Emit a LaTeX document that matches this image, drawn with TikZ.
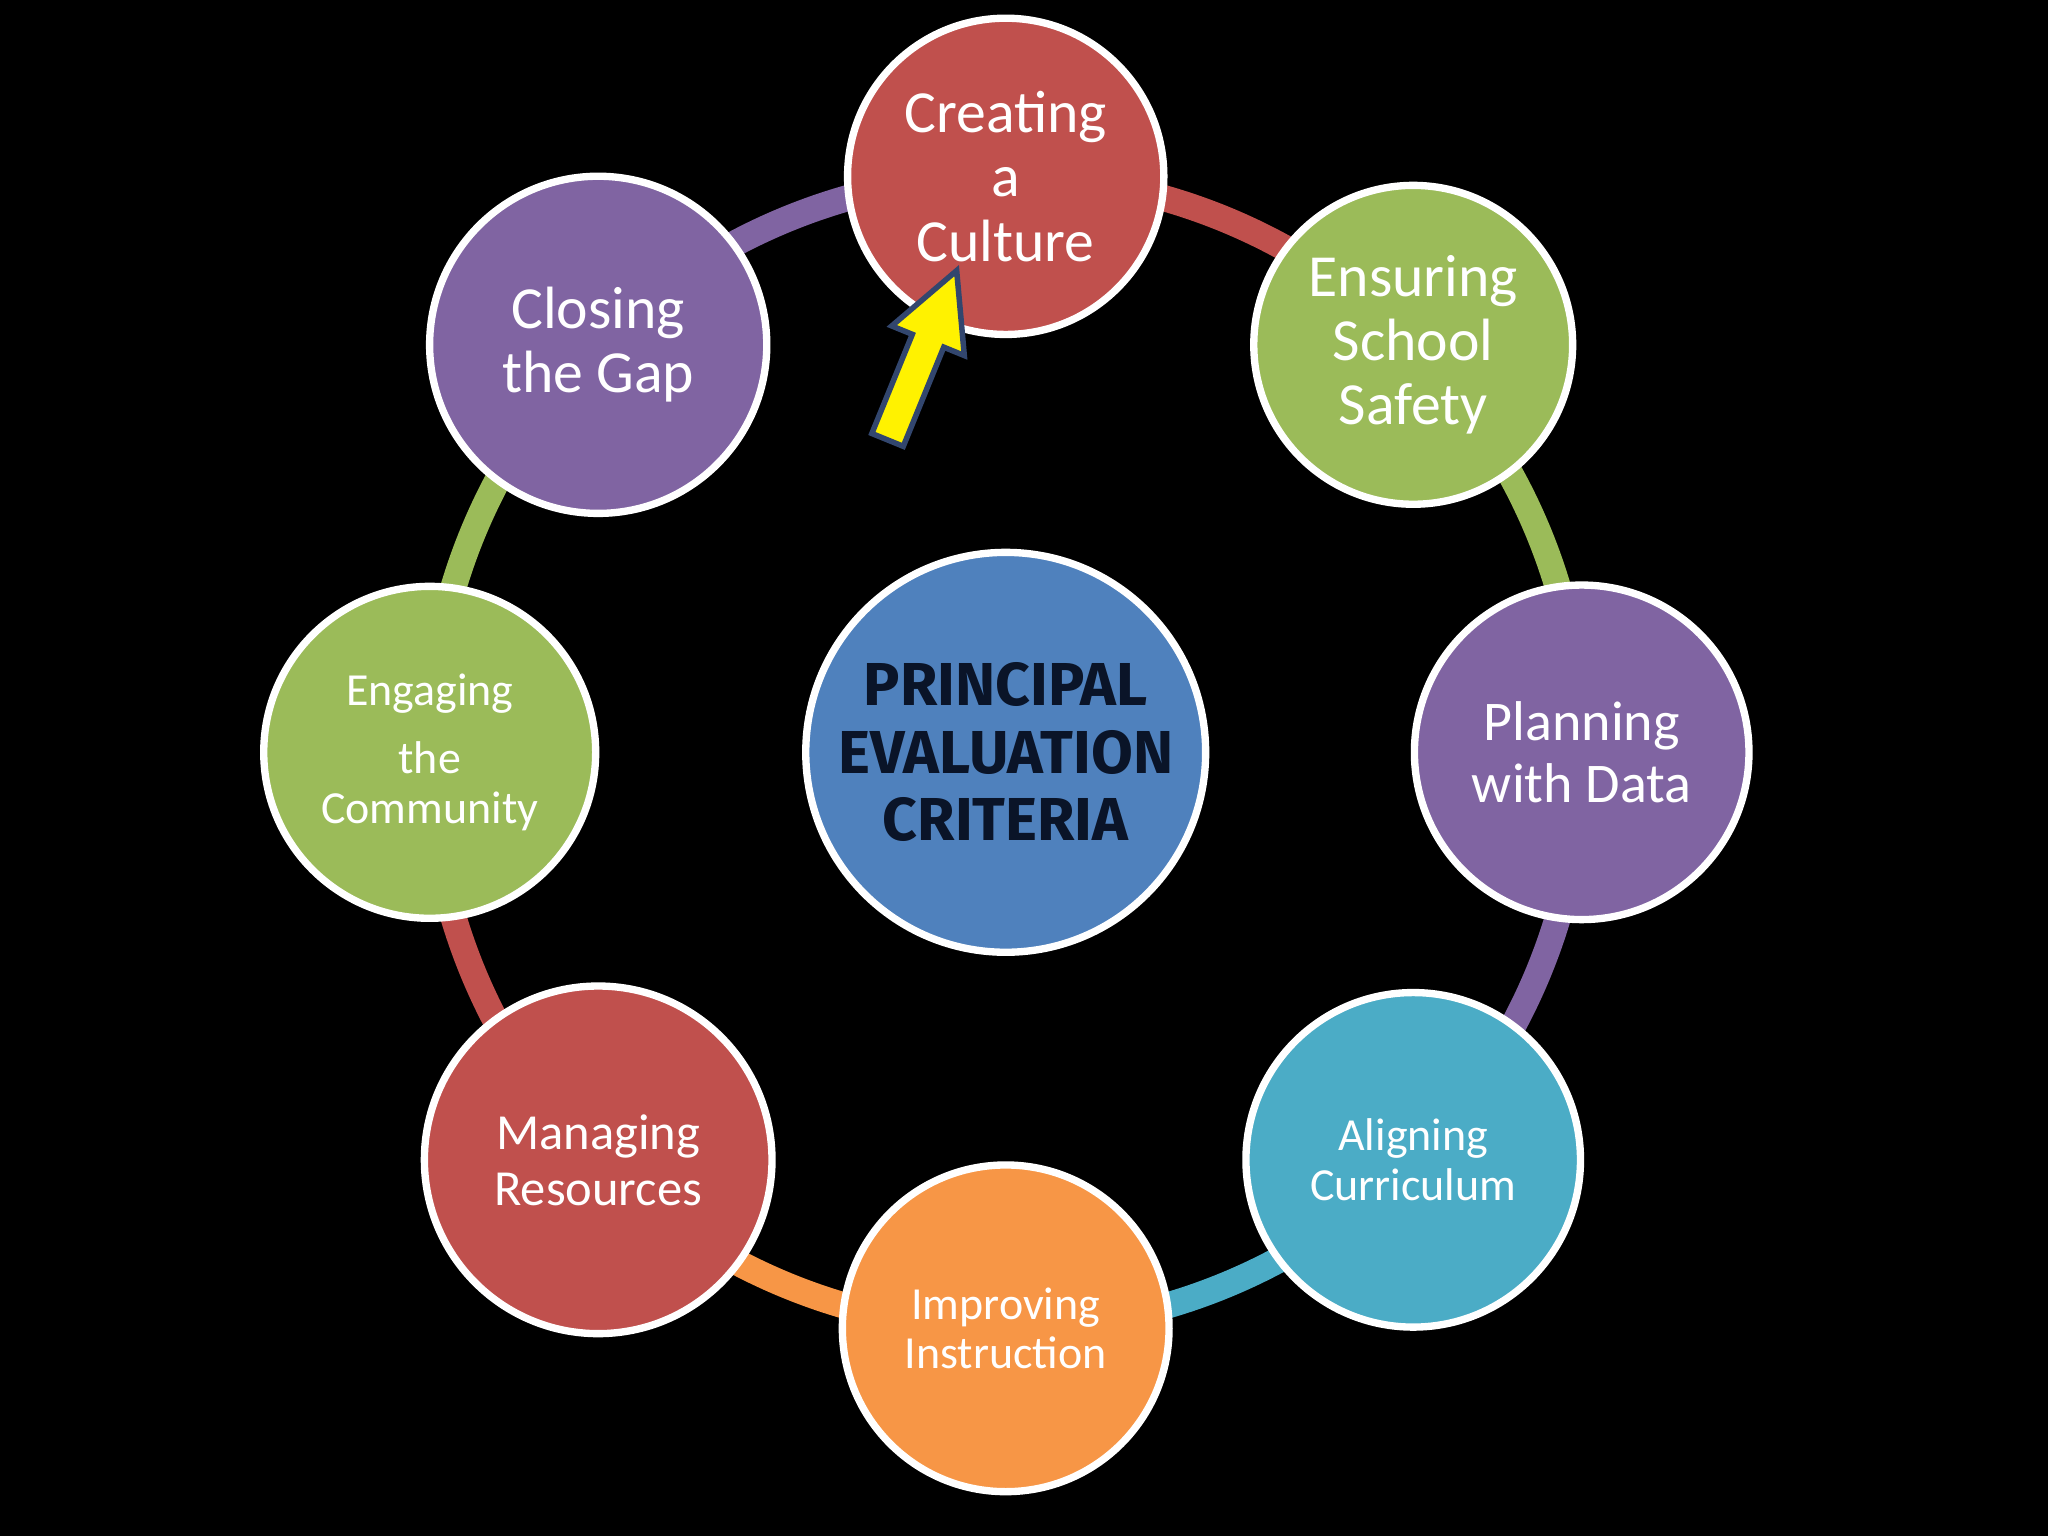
\documentclass[tikz,border=0pt]{standalone}
\usepackage{fontspec}
\setmainfont{Carlito}
\newfontfamily\ctrfont{Fira Sans}
\definecolor{cred}{HTML}{C0504D}
\definecolor{cgreen}{HTML}{9BBB59}
\definecolor{cpurple}{HTML}{8064A2}
\definecolor{ccyan}{HTML}{4BACC6}
\definecolor{corange}{HTML}{F79646}
\definecolor{cblue}{HTML}{4F81BD}
\begin{document}
\begin{tikzpicture}[x=0.01cm,y=-0.01cm,
  bub/.style={circle,draw=white,line width=1.6pt,text=white,align=center,inner sep=0pt},
  ring/.style={line width=0.2cm}]
\fill[black] (0,0) rectangle (1568,1176);
\useasboundingbox (0,0) rectangle (1568,1176);
\coordinate (ctr) at (770,576);
% ring arcs
\foreach \a/\c in {90/cred,45/cgreen,0/cpurple,-45/ccyan,-90/corange,-135/cred,180/cgreen,135/cpurple}{
  \draw[ring,\c] (ctr) ++(\a:4.41cm) arc[start angle=\a, delta angle=-45, radius=4.41cm];
}
\node[bub,fill=cred,minimum size=2.42cm,font=\fontsize{13}{14}\selectfont] (n1) at (770,135) {Creating\\a\\Culture};
\node[bub,fill=cgreen,minimum size=2.44cm,font=\fontsize{13}{14}\selectfont] (n2) at (1082,264) {Ensuring\\School\\Safety};
\node[bub,fill=cpurple,minimum size=2.56cm,font=\fontsize{12.2}{13.4}\selectfont] (n3) at (1211,576) {Planning\\with Data};
\node[bub,fill=ccyan,minimum size=2.56cm,font=\fontsize{10}{10.8}\selectfont] (n4) at (1082,888) {Aligning\\Curriculum};
\node[bub,fill=corange,minimum size=2.5cm,font=\fontsize{10}{10.8}\selectfont] (n5) at (770,1017) {Improving\\Instruction};
\node[bub,fill=cred,minimum size=2.66cm,font=\fontsize{11}{12.2}\selectfont] (n6) at (458,888) {Managing\\Resources};
\node[bub,fill=cgreen,minimum size=2.54cm,font=\fontsize{10}{12.9}\selectfont] (n7) at (329,576) {Engaging\\[2pt]the\\[-2pt]Community};
\node[bub,fill=cpurple,minimum size=2.58cm,font=\fontsize{13}{14}\selectfont] (n8) at (458,264) {Closing\\the Gap};
\node[bub,fill=cblue,minimum size=3.06cm,text={rgb,255:red,10;green,20;blue,40},font=\ctrfont\bfseries\fontsize{13.2}{14.7}\selectfont] (c) at (ctr) {PRINCIPAL\\EVALUATION\\CRITERIA};
% yellow arrow
\begin{scope}[shift={(706,272)},rotate=67.8]
\draw[fill=yellow,draw={rgb,255:red,50;green,70;blue,110},line width=1.2pt,line join=miter]
 (-70,-13) -- (12,-13) -- (12,-30) -- (70,0) -- (12,30) -- (12,13) -- (-70,13) -- cycle;
\end{scope}
\end{tikzpicture}
\end{document}
